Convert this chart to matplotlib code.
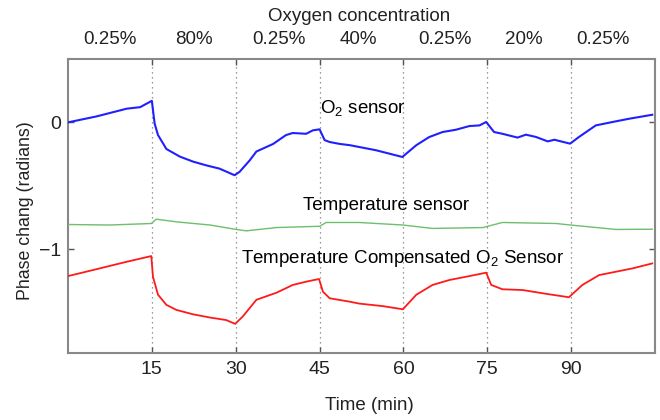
import matplotlib
matplotlib.use("Agg")
import matplotlib.pyplot as plt
import matplotlib.transforms as mtransforms

plt.rcParams['font.family'] = ['Liberation Sans', 'DejaVu Sans']
plt.rcParams['mathtext.fontset'] = 'custom'
plt.rcParams['mathtext.rm'] = 'Liberation Sans'
plt.rcParams['mathtext.it'] = 'Liberation Sans:italic'

# O2 sensor phase (radians) vs time (min)
o2_t = [0, 5.1, 10.5, 12.9, 15.0, 15.5, 16.1, 17.6, 20, 22.4, 24.8, 27.1, 29.8,
        30.7, 32.5, 33.7, 36.7, 39, 40.2, 42.6, 43.8, 45, 45.9, 46.8, 48.6,
        50.4, 55.1, 59.8, 62.3, 64.6, 67, 69.4, 71.8, 73.6, 74.8, 76.2, 77.7,
        80.4, 81.9, 83.7, 85.8, 87, 89.8, 91.4, 94.4, 97.4, 100.4, 104.5]
o2_v = [0.0, 0.047, 0.108, 0.12, 0.17, -0.01, -0.10, -0.21, -0.27, -0.31,
        -0.34, -0.365, -0.417, -0.39, -0.30, -0.23, -0.17, -0.10, -0.084,
        -0.09, -0.063, -0.055, -0.14, -0.155, -0.17, -0.18, -0.22, -0.273,
        -0.18, -0.116, -0.076, -0.058, -0.029, -0.024, 0.003, -0.076, -0.09,
        -0.12, -0.097, -0.115, -0.15, -0.137, -0.168, -0.115, -0.024, 0.003,
        0.029, 0.06]

# temperature sensor
temp_t = [0, 7.5, 14.9, 15.8, 19.4, 25.4, 30.1, 31.9, 37.3, 45, 46.2, 52.1,
          59.9, 65.2, 74.2, 77.7, 87.3, 89.9, 98, 104.5]
temp_v = [-0.806, -0.81, -0.798, -0.764, -0.785, -0.81, -0.845, -0.856, -0.83,
          -0.82, -0.79, -0.79, -0.81, -0.837, -0.83, -0.79, -0.798, -0.81,
          -0.845, -0.843]

# temperature compensated O2 sensor
comp_t = [0, 4.5, 10.5, 14.9, 15.2, 16.1, 17.6, 19.4, 22.4, 25.4, 28.3, 29.9,
          31.3, 33.7, 37.3, 40.2, 42.6, 44.9, 45.6, 46.8, 50.4, 52.1, 56.3,
          59.9, 62.3, 65.2, 68.2, 71.8, 74.8, 75.7, 77.7, 81.3, 86.1, 89.6,
          92, 95, 101, 104.5]
comp_v = [-1.213, -1.165, -1.10, -1.055, -1.218, -1.36, -1.44, -1.48, -1.515,
          -1.54, -1.56, -1.59, -1.53, -1.40, -1.344, -1.283, -1.257, -1.236,
          -1.336, -1.388, -1.415, -1.43, -1.45, -1.475, -1.36, -1.283, -1.244,
          -1.213, -1.186, -1.283, -1.317, -1.323, -1.357, -1.38, -1.283,
          -1.205, -1.152, -1.113]

switch_times = [15, 30, 45, 60, 75, 90]
conc_labels = ['0.25%', '80%', '0.25%', '40%', '0.25%', '20%', '0.25%']
conc_pos = [7.5, 22.6, 37.7, 52, 67.4, 81.5, 95.6]

fs = 13.5

fig = plt.figure(figsize=(6.6, 4.2), dpi=100)
ax = fig.add_axes([0.103, 0.1595, 0.8895, 0.70])

for t in switch_times:
    ax.axvline(t, color='#7a7a7a', lw=0.9, dashes=(1, 3), zorder=1)

ax.plot(o2_t, o2_v, color='#2020ff', lw=1.5, zorder=3)
ax.plot(temp_t, temp_v, color='#6cbf6c', lw=1.0, zorder=3)
ax.plot(comp_t, comp_v, color='#ff1a1a', lw=1.3, zorder=3)

ax.text(52.7, 0.076, 'O$_2$ sensor', fontsize=fs, ha='center', va='baseline')
ax.text(56.9, -0.693, 'Temperature sensor', fontsize=fs, ha='center', va='baseline')
ax.text(59.9, -1.108, 'Temperature Compensated O$_2$ Sensor', fontsize=fs,
        ha='center', va='baseline')

top = mtransforms.blended_transform_factory(ax.transData, ax.transAxes)
for lab, x in zip(conc_labels, conc_pos):
    ax.text(x, 1.065, lab, fontsize=fs, ha='center', va='center',
            transform=top, color='#222222')
ax.text(52, 1.143, 'Oxygen concentration', fontsize=fs, ha='center',
        va='center', transform=top, color='#222222')

ax.set_xlim(0, 105)
ax.set_ylim(-1.82, 0.5)
ax.set_xticks(switch_times)
ax.set_yticks([0, -1])
ax.tick_params(direction='in', length=4, width=1, color='#555555',
               top=True, right=True, labelsize=14, labelcolor='#222222')
ax.tick_params(axis='x', pad=6)
ax.tick_params(axis='y', pad=5)
for s in ax.spines.values():
    s.set_color('#888888')
    s.set_linewidth(1.5)

ax.set_xlabel('Time (min)', fontsize=fs, color='#222222')
ax.xaxis.set_label_coords(0.514, -0.148)
ax.set_ylabel('Phase chang (radians)', fontsize=12.8, color='#222222')
ax.yaxis.set_label_coords(-0.058, 0.486)

fig.savefig('out.png', dpi=100)
